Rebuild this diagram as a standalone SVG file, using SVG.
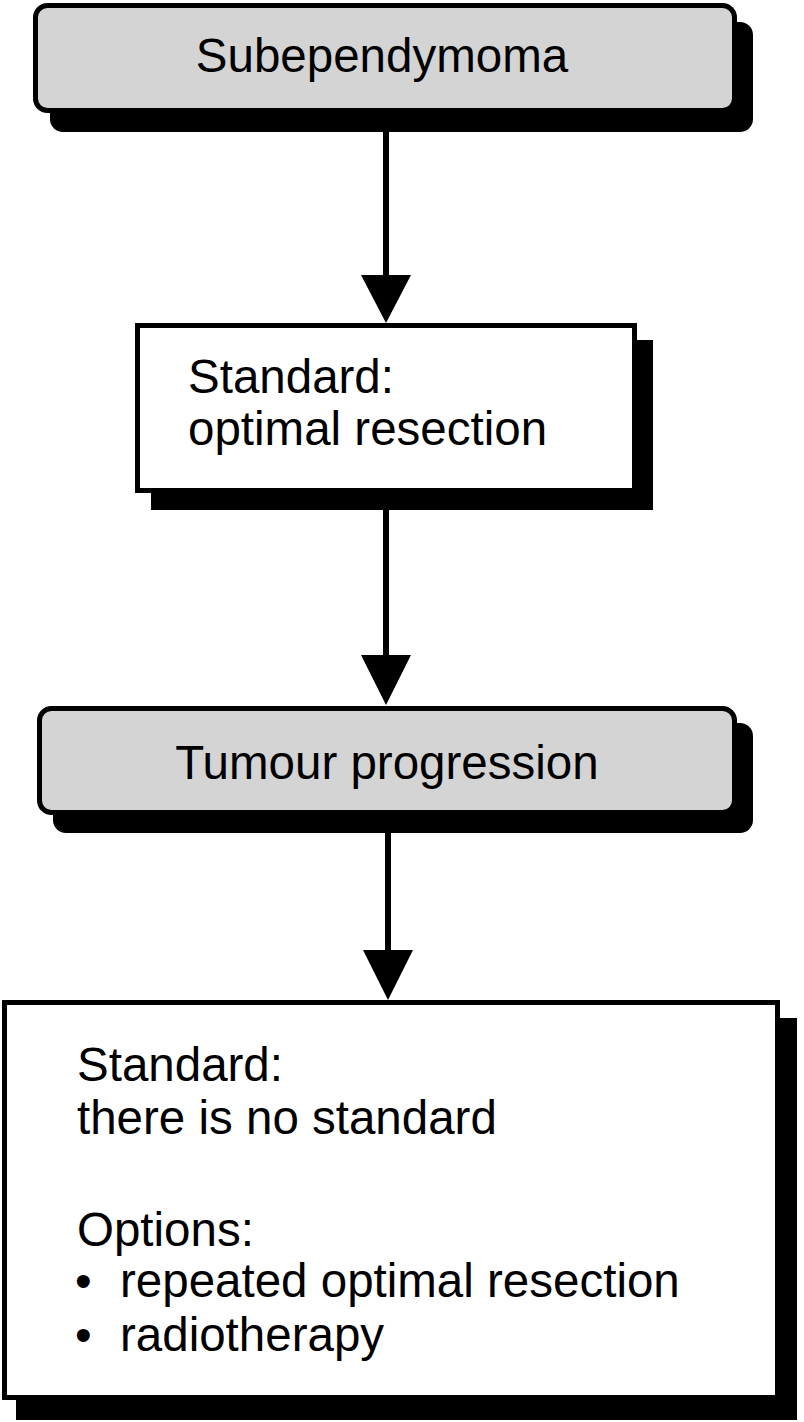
<svg xmlns="http://www.w3.org/2000/svg" width="804" height="1422" viewBox="0 0 804 1422">
<style>
.shadow{fill:#000}
.box{stroke:#000;stroke-width:5}
.grey{fill:#d4d4d4}
.white{fill:#fff}
.t{font-family:"Liberation Sans",Arial,sans-serif;font-size:47.5px;fill:#000}
.c{text-anchor:middle}
.line{stroke:#000;stroke-width:6;fill:none}
.head{fill:#000}
</style>
<rect width="804" height="1422" fill="#fff"/>
<g id="connectors">
<line class="line" x1="386" y1="130" x2="386" y2="280"/>
<polygon class="head" points="361,275 411,275 386,323"/>
<line class="line" x1="386" y1="508" x2="386" y2="660"/>
<polygon class="head" points="361,655 411,655 386,705"/>
<line class="line" x1="388" y1="831" x2="388" y2="955"/>
<polygon class="head" points="363,950 413,950 388,1000"/>
</g>
<g id="node-subependymoma">
<rect class="shadow" x="50" y="22" width="703" height="110" rx="13"/>
<rect class="box grey" x="35.5" y="5.5" width="699" height="105" rx="12"/>
<text class="t c" x="382" y="72">Subependymoma</text>
</g>
<g id="node-standard-resection">
<rect class="shadow" x="151" y="340" width="502" height="170"/>
<rect class="box white" x="137.5" y="325.5" width="497" height="165"/>
<text class="t" x="188" y="393">Standard:</text>
<text class="t" x="188" y="445">optimal resection</text>
</g>
<g id="node-tumour-progression">
<rect class="shadow" x="53" y="723" width="700" height="110" rx="13"/>
<rect class="box grey" x="39.5" y="708.5" width="695" height="104" rx="12"/>
<text class="t c" x="387" y="779">Tumour progression</text>
</g>
<g id="node-options">
<rect class="shadow" x="16" y="1018" width="781" height="402"/>
<rect class="box white" x="4.5" y="1002.5" width="773" height="395"/>
<text class="t" x="77" y="1081">Standard:</text>
<text class="t" x="77" y="1134">there is no standard</text>
<text class="t" x="77" y="1246">Options:</text>
<text class="t" x="75" y="1297">•</text>
<text class="t" x="120" y="1297">repeated optimal resection</text>
<text class="t" x="75" y="1351">•</text>
<text class="t" x="120" y="1351">radiotherapy</text>
</g>
</svg>
